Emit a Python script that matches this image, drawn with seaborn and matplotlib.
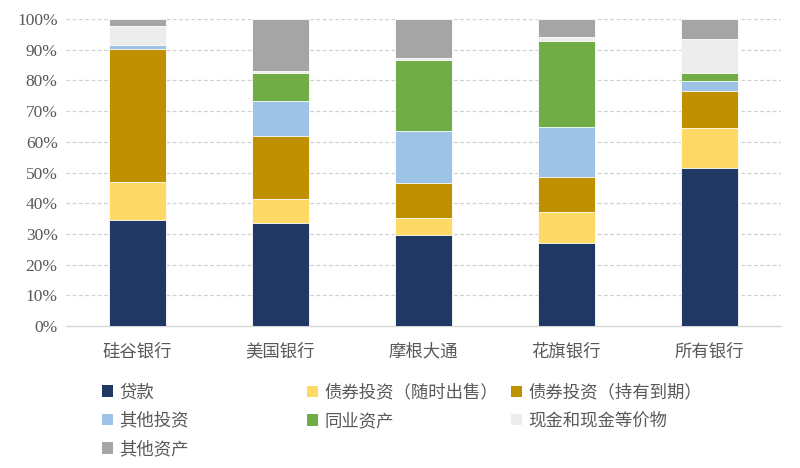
import matplotlib
matplotlib.use("Agg")
import matplotlib.pyplot as plt
import numpy as np
import seaborn as sns
from matplotlib.patches import Patch
from matplotlib.ticker import PercentFormatter

banks = ["硅谷银行", "美国银行", "摩根大通", "花旗银行", "所有银行"]

# shares in %, bottom to top
loans = [34.5, 33.6, 29.6, 27.1, 51.6]
afs_bonds = [12.5, 7.7, 5.7, 10.1, 13.0]
htm_bonds = [43.1, 20.7, 11.4, 11.4, 11.9]
other_inv = [1.4, 11.3, 16.8, 16.3, 3.3]
interbank = [0.0, 9.2, 23.1, 28.0, 2.7]
cash = [6.2, 0.7, 0.6, 1.3, 10.9]
other_assets = [2.3, 16.8, 12.8, 5.8, 6.6]

series_names = ["贷款", "债券投资（随时出售）", "债券投资（持有到期）", "其他投资",
                "同业资产", "现金和现金等价物", "其他资产"]
series_values = [loans, afs_bonds, htm_bonds, other_inv, interbank, cash, other_assets]
colors = ["#1F3864", "#FFD966", "#BF9000", "#9DC3E6", "#70AD47", "#EDEDED", "#A5A5A5"]

sns.set_style("white")
plt.rcParams["font.family"] = ["Liberation Serif", "DejaVu Serif", "Noto Sans CJK SC"]
text_color = "#595959"

fig = plt.figure(figsize=(8, 4.68), dpi=100)
ax = fig.add_axes([0.0825, 0.3034, 0.8935, 0.656])

# stacked bars: draw cumulative totals from the top down
cum = np.cumsum(np.array(series_values), axis=0) / 100.0
for i in range(len(series_names) - 1, -1, -1):
    sns.barplot(x=banks, y=cum[i], color=colors[i], width=0.4, errorbar=None,
                edgecolor="white", linewidth=0.6, ax=ax, zorder=3, saturation=1)

ax.set_ylim(0, 1)
ax.set_yticks(np.arange(0, 1.01, 0.1))
ax.yaxis.set_major_formatter(PercentFormatter(1.0, decimals=0))
ax.grid(axis="y", linestyle=(0, (3, 2)), color="#D0D0D0", linewidth=0.9, zorder=0)
ax.set_axisbelow(True)
for s in ["left", "right", "top"]:
    ax.spines[s].set_visible(False)
ax.spines["bottom"].set_color("#D9D9D9")
ax.spines["bottom"].set_linewidth(1.0)
ax.tick_params(axis="both", length=0, colors=text_color)
ax.tick_params(axis="y", labelsize=12.5, pad=6)
ax.tick_params(axis="x", labelsize=12.5, pad=13)
ax.set_xlabel("")
ax.set_ylabel("")

# legend laid out in three columns like the original
columns = [[0, 3, 6], [1, 4], [2, 5]]
col_x = [0.128, 0.384, 0.639]
for cx, idx in zip(col_x, columns):
    handles = [Patch(facecolor=colors[k], edgecolor="none") for k in idx]
    labels = [series_names[k] for k in idx]
    fig.legend(handles, labels, loc="upper left", bbox_to_anchor=(cx, 0.178),
               frameon=False, fontsize=12.5, handlelength=0.6, handleheight=0.65,
               handletextpad=0.4, labelspacing=0.68, borderaxespad=0, borderpad=0,
               labelcolor=text_color)

fig.savefig("out.png", dpi=100)
